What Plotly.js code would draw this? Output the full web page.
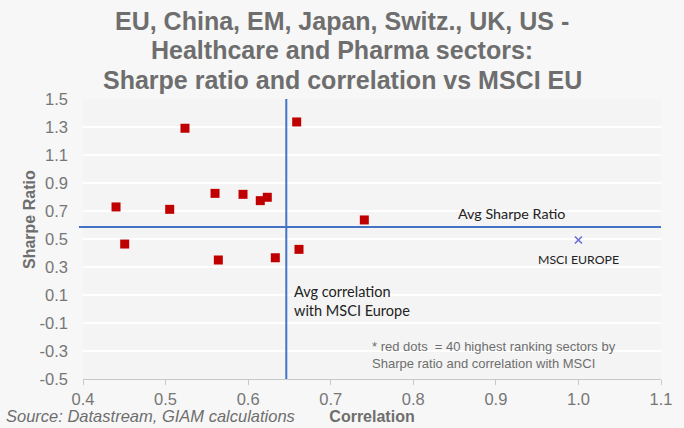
<!DOCTYPE html>
<html>
<head>
<meta charset="utf-8">
<script src="https://cdn.plot.ly/plotly-3.0.1.min.js"></script>
<style>html,body{margin:0;padding:0;background:#f7f7f7;}#chart{width:684px;height:428px;}</style>
</head>
<body>
<div id="chart"></div>
<script>
// Data
const correlation = [0.5235, 0.6588, 0.5599, 0.5938, 0.6147, 0.6232, 0.4400, 0.5050, 0.7407, 0.4505, 0.5639, 0.6329, 0.6616];
const sharpeRatio = [1.291, 1.336, 0.826, 0.819, 0.774, 0.798, 0.729, 0.712, 0.636, 0.464, 0.350, 0.366, 0.426];
const msciCorrelation = [1.0];
const msciSharpe = [0.493];
const msciLabel = ["MSCI EUROPE"];
const avgCorrelation = 0.6462;
const avgSharpe = 0.586;
const xTicks = [0.4, 0.5, 0.6, 0.7, 0.8, 0.9, 1.0, 1.1];
const xTickLabels = ["0.4", "0.5", "0.6", "0.7", "0.8", "0.9", "1.0", "1.1"];
const yTicks = [-0.5, -0.3, -0.1, 0.1, 0.3, 0.5, 0.7, 0.9, 1.1, 1.3, 1.5];
const yTickLabels = ["-0.5", "-0.3", "-0.1", "0.1", "0.3", "0.5", "0.7", "0.9", "1.1", "1.3", "1.5"];
const titleLines = ["EU, China, EM, Japan, Switz., UK, US -", "Healthcare and Pharma sectors:", "Sharpe ratio and correlation vs MSCI EU"];
const yRange = [-0.5, 1.5];
const xRange = [0.4, 1.1];

const grey = '#6e6e6e';
const tickGrey = '#767676';
const calibri = 'Lato, "Open Sans", sans-serif';
const arial = 'Arial, "Liberation Sans", sans-serif';

const W = 684, H = 428, M = {l: 83, r: 23, t: 99, b: 49};
const pw = W - M.l - M.r, ph = H - M.t - M.b;
const px2x = p => (p - M.l) / pw;
const py2y = p => (H - M.b - p) / ph;

const traces = [
  {
    x: [avgCorrelation, avgCorrelation], y: yRange,
    mode: 'lines', line: {color: '#4472c4', width: 2},
    hoverinfo: 'skip', showlegend: false, cliponaxis: false
  },
  {
    x: correlation, y: sharpeRatio, mode: 'markers',
    marker: {symbol: 'square', size: 9, color: '#c00000'},
    showlegend: false
  },
  {
    x: msciCorrelation, y: msciSharpe, mode: 'markers',
    marker: {symbol: 'x-thin', size: 7, color: '#6b6bd6', line: {width: 1.6, color: '#6b6bd6'}},
    showlegend: false
  }
];

const titleCenters = [21, 50.5, 80];
const annotations = titleLines.map((t, i) => ({
  x: px2x(342), y: py2y(titleCenters[i]), xref: 'paper', yref: 'paper',
  text: '<b>' + t + '</b>', showarrow: false, xanchor: 'center', yanchor: 'middle',
  font: {family: arial, size: 25, color: grey}
}));

annotations.push(
  {x: px2x(29), y: py2y(220), xref: 'paper', yref: 'paper', text: '<b>Sharpe Ratio</b>', showarrow: false,
   textangle: -90, xanchor: 'center', yanchor: 'middle', font: {family: arial, size: 16, color: grey}},
  {x: 0.919, y: avgSharpe, xref: 'x', yref: 'y', text: 'Avg Sharpe Ratio', showarrow: false,
   yanchor: 'bottom', yshift: 3, font: {family: calibri, size: 14.3, color: '#222'}},
  {x: msciCorrelation[0], y: msciSharpe[0], xref: 'x', yref: 'y', text: msciLabel[0], showarrow: false,
   yanchor: 'middle', yshift: -20, font: {family: calibri, size: 12.3, color: '#222'}},
  {x: avgCorrelation, y: 0.057, xref: 'x', yref: 'y', text: 'Avg correlation<br>with MSCI Europe', showarrow: false,
   xanchor: 'left', yanchor: 'middle', xshift: 6, align: 'left', font: {family: calibri, size: 14.5, color: '#222'}},
  {x: 0.748, y: -0.325, xref: 'x', yref: 'y', text: '* red dots  = 40 highest ranking sectors by<br>Sharpe ratio and correlation with MSCI', showarrow: false,
   xanchor: 'left', yanchor: 'middle', align: 'left', font: {family: arial, size: 13, color: grey}},
  {x: px2x(4), y: py2y(416), xref: 'paper', yref: 'paper', text: '<i>Source: Datastream, GIAM calculations</i>', showarrow: false,
   xanchor: 'left', yanchor: 'middle', font: {family: arial, size: 16.5, color: grey}}
);

const layout = {
  width: W, height: H,
  margin: M,
  paper_bgcolor: '#f7f7f7',
  plot_bgcolor: '#f4f4f4',
  font: {family: arial, color: grey},
  xaxis: {
    range: xRange, tickvals: xTicks, ticktext: xTickLabels,
    showgrid: false, zeroline: false,
    showline: true, linecolor: '#c8c8c8', linewidth: 1,
    ticks: 'outside', ticklen: 5, tickcolor: '#c8c8c8',
    tickfont: {size: 16.5, color: tickGrey},
    title: {text: '<b>Correlation</b>', font: {size: 16, color: grey}, standoff: 1}
  },
  yaxis: {
    range: yRange, tickvals: yTicks, ticktext: yTickLabels,
    showgrid: true, gridcolor: '#ffffff', gridwidth: 1.5,
    zeroline: false, showline: false, ticks: '',
    ticklabelstandoff: 14,
    tickfont: {size: 16.5, color: tickGrey}
  },
  shapes: [
    {type: 'line', xref: 'paper', yref: 'y', x0: -0.007, x1: 1, y0: avgSharpe, y1: avgSharpe,
     line: {color: '#4472c4', width: 2}}
  ],
  annotations: annotations
};

Plotly.newPlot('chart', traces, layout, {displayModeBar: false, staticPlot: true});
</script>
</body>
</html>
